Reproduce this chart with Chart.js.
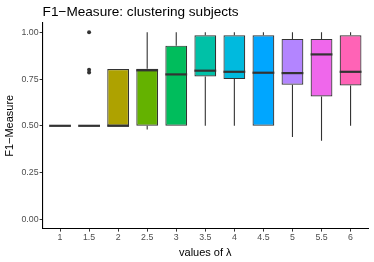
<!DOCTYPE html>
<html>
<head>
<meta charset="utf-8">
<script src="https://cdn.jsdelivr.net/npm/chart.js@4"></script>
<style>
  html, body { margin: 0; padding: 0; background: #fff; }
  #wrap { width: 374px; height: 262px; }
</style>
</head>
<body>
<div id="wrap"><canvas id="myChart"></canvas></div>
<script>
const categories = ["1", "1.5", "2", "2.5", "3", "3.5", "4", "4.5", "5", "5.5", "6"]
const lower = [0.5, 0.5, 0.5, 0.48, 0.5, 0.5, 0.5, 0.5, 0.44, 0.42, 0.5]
const q1 = [0.5, 0.5, 0.5, 0.5, 0.5, 0.764, 0.75, 0.5, 0.72, 0.657, 0.716]
const median = [0.5, 0.5, 0.5, 0.797, 0.775, 0.795, 0.789, 0.784, 0.782, 0.882, 0.789]
const q3 = [0.5, 0.5, 0.804, 0.805, 0.929, 0.984, 0.984, 0.984, 0.965, 0.965, 0.984]
const upper = [0.5, 0.5, 0.804, 1, 1, 1, 1, 1, 1, 1, 1]
const outliers = [[], [1, 0.8, 0.785], [], [], [], [], [], [], [], [], []]
const yTicks = [0, 0.25, 0.5, 0.75, 1]
const fills = ["#F8766D", "#DB8E00", "#AEA200", "#64B200", "#00BD5C", "#00C1A7",
  "#00BADE", "#00A6FF", "#B385FF", "#EF67EB", "#FF63B6"]

const font = "'Liberation Sans', Arial, Helvetica, sans-serif"
const ink = "#333333"

// whiskers under the boxes, medians and outliers on top
const boxMarks = {
  id: "boxMarks",
  beforeDatasetsDraw(chart) {
    const { ctx, scales: { x, y } } = chart
    ctx.save()
    ctx.strokeStyle = ink
    ctx.lineWidth = 1.1
    categories.forEach((c, i) => {
      const px = x.getPixelForValue(i)
      ctx.beginPath()
      ctx.moveTo(px, y.getPixelForValue(upper[i]))
      ctx.lineTo(px, y.getPixelForValue(q3[i]))
      ctx.moveTo(px, y.getPixelForValue(q1[i]))
      ctx.lineTo(px, y.getPixelForValue(lower[i]))
      ctx.stroke()
    })
    ctx.restore()
  },
  afterDatasetsDraw(chart) {
    const { ctx, scales: { x, y } } = chart
    const meta = chart.getDatasetMeta(0)
    ctx.save()
    ctx.strokeStyle = ink
    ctx.lineWidth = 2.2
    meta.data.forEach((bar, i) => {
      const { x: bx, width } = bar.getProps(["x", "width"], true)
      const py = y.getPixelForValue(median[i])
      ctx.beginPath()
      ctx.moveTo(bx - width / 2, py)
      ctx.lineTo(bx + width / 2, py)
      ctx.stroke()
    })
    ctx.fillStyle = ink
    outliers.forEach((list, i) => {
      list.forEach((v) => {
        ctx.beginPath()
        ctx.arc(x.getPixelForValue(i), y.getPixelForValue(v), 2, 0, Math.PI * 2)
        ctx.fill()
      })
    })
    ctx.restore()
  },
}

const ctx = document.getElementById("myChart")
const myChart = new Chart(ctx, {
  type: "bar",
  data: {
    datasets: [
      {
        data: categories.map((c, i) => ({ x: i, y: [q1[i], q3[i]] })),
        backgroundColor: fills,
        borderColor: ink,
        borderWidth: 1.2,
        borderSkipped: false,
        barPercentage: 0.75,
        categoryPercentage: 1,
      },
    ],
  },
  options: {
    responsive: true,
    maintainAspectRatio: false,
    animation: false,
    events: [],
    layout: { padding: { left: 0, right: 6, top: 0, bottom: 0 } },
    scales: {
      x: {
        type: "linear",
        offset: false,
        min: -0.6,
        max: 10.6,
        afterBuildTicks: (scale) => {
          scale.ticks = categories.map((c, i) => ({ value: i }))
        },
        afterFit: (scale) => {
          scale.height = 33.4
        },
        ticks: {
          callback: (v) => categories[v],
          color: "#4D4D4D",
          font: { family: font, size: 8.8 },
          padding: 1,
          maxRotation: 0,
          autoSkip: false,
        },
        grid: {
          display: true,
          offset: false,
          drawOnChartArea: false,
          drawTicks: true,
          tickLength: 3,
          color: ink,
        },
        border: { display: true, color: "#000", width: 1.1 },
        title: {
          display: true,
          text: "values of λ",
          color: "#000",
          font: { family: font, size: 11 },
          padding: { top: 0, bottom: 2 },
        },
      },
      y: {
        min: -0.05,
        max: 1.05,
        afterBuildTicks: (scale) => {
          scale.ticks = yTicks.map((v) => ({ value: v }))
        },
        afterFit: (scale) => {
          scale.width = 42.6
        },
        ticks: {
          callback: (v) => v.toFixed(2),
          color: "#4D4D4D",
          font: { family: font, size: 8.8 },
          padding: 1,
        },
        grid: {
          display: true,
          drawOnChartArea: false,
          drawTicks: true,
          tickLength: 3,
          color: ink,
        },
        border: { display: true, color: "#000", width: 1.1 },
        title: {
          display: true,
          text: "F1−Measure",
          color: "#000",
          font: { family: font, size: 11 },
          padding: { top: 3.4, bottom: 0 },
        },
      },
    },
    plugins: {
      legend: { display: false },
      tooltip: { enabled: false },
      title: {
        display: true,
        text: "F1−Measure: clustering subjects",
        align: "start",
        fullSize: false,
        color: "#000",
        font: { family: font, size: 13.6, weight: "normal" },
        padding: { top: 4, bottom: 2.7 },
      },
    },
  },
  plugins: [boxMarks],
})
</script>
</body>
</html>
